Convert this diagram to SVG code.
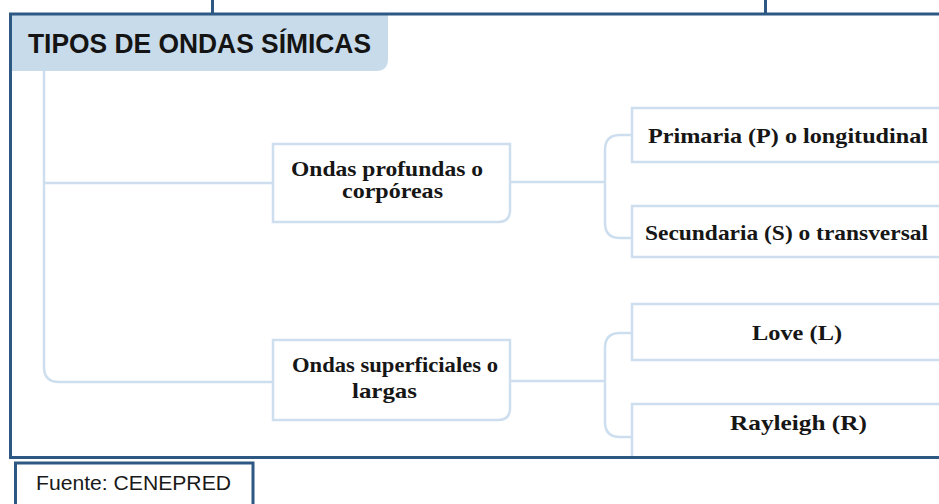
<svg xmlns="http://www.w3.org/2000/svg" width="939" height="504" viewBox="0 0 939 504">
<style>
.frame{fill:none;stroke:#2c5883;stroke-width:3}
.node{fill:#fff;stroke:#cddfee;stroke-width:2.5}
.conn{fill:none;stroke:#cddfee;stroke-width:2.5}
.t{font-family:"Liberation Serif","Times New Roman",serif;font-weight:bold;font-size:21px;fill:#161616}
.hd{font-family:"Liberation Sans",Arial,sans-serif;font-weight:bold;font-size:27px;fill:#141414}
.src{font-family:"Liberation Sans",Arial,sans-serif;font-size:21px;fill:#1a1a1a}
</style>
<defs>
<clipPath id="inner"><rect x="10" y="14" width="929" height="444"/></clipPath>
</defs>
<rect width="939" height="504" fill="#fff"/>
<g clip-path="url(#inner)">
<g id="header">
<path d="M10 14 H388 V59 Q388 71 376 71 H10 Z" fill="#c8dbea"/>
<text class="hd" x="28" y="53" textLength="343" lengthAdjust="spacingAndGlyphs">TIPOS DE ONDAS SÍMICAS</text>
</g>
<g id="connectors">
<path class="conn" d="M44 71 V367 Q44 382 59 382 H273"/>
<path class="conn" d="M44 183 H273"/>
<path class="conn" d="M510 182 H605"/>
<path class="conn" d="M632 135 H620 Q605 135 605 150 V223 Q605 238 620 238 H632"/>
<path class="conn" d="M510 381 H605"/>
<path class="conn" d="M632 333 H620 Q605 333 605 348 V422 Q605 437 620 437 H632"/>
</g>
<g id="n-profundas">
<path class="node" d="M273 144 H510 V210 Q510 222 498 222 H273 Z"/>
<text class="t" x="291" y="176" textLength="192" lengthAdjust="spacingAndGlyphs">Ondas profundas o</text>
<text class="t" x="342" y="198" textLength="101" lengthAdjust="spacingAndGlyphs">corpóreas</text>
</g>
<g id="n-superficiales">
<path class="node" d="M273 340 H510 V408 Q510 420 498 420 H273 Z"/>
<text class="t" x="292" y="372" textLength="206" lengthAdjust="spacingAndGlyphs">Ondas superficiales o</text>
<text class="t" x="352" y="398" textLength="65" lengthAdjust="spacingAndGlyphs">largas</text>
</g>
<g id="n-primaria">
<rect class="node" x="632" y="108" width="330" height="54"/>
<text class="t" x="648" y="143" textLength="280" lengthAdjust="spacingAndGlyphs">Primaria (P) o longitudinal</text>
</g>
<g id="n-secundaria">
<rect class="node" x="632" y="206" width="330" height="51"/>
<text class="t" x="645" y="240" textLength="283" lengthAdjust="spacingAndGlyphs">Secundaria (S) o transversal</text>
</g>
<g id="n-love">
<rect class="node" x="632" y="304" width="330" height="56"/>
<text class="t" x="752" y="340" textLength="90" lengthAdjust="spacingAndGlyphs">Love (L)</text>
</g>
<g id="n-rayleigh">
<rect class="node" x="632" y="404" width="330" height="80"/>
<text class="t" x="730" y="430" textLength="137" lengthAdjust="spacingAndGlyphs">Rayleigh (R)</text>
</g>
</g>
<g id="frame">
<rect class="frame" x="10.5" y="14" width="1000" height="443.5"/>
<path class="frame" d="M212.5 0 V14 M765.5 0 V14"/>
</g>
<g id="source">
<rect class="frame" x="15.5" y="463" width="237.5" height="60"/>
<text class="src" x="36" y="490" textLength="195" lengthAdjust="spacingAndGlyphs">Fuente: CENEPRED</text>
</g>
</svg>
